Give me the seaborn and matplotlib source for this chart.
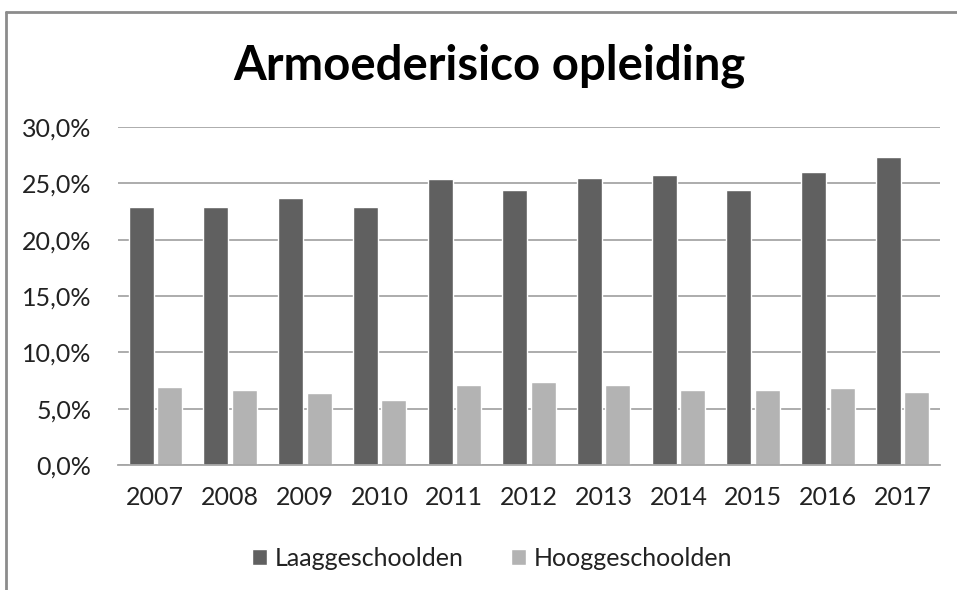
import matplotlib
matplotlib.use('Agg')
import matplotlib.pyplot as plt
import seaborn as sns
import pandas as pd
from matplotlib.lines import Line2D
from matplotlib.ticker import FuncFormatter

# ============================================
# DATA
# ============================================
years = ['2007', '2008', '2009', '2010', '2011', '2012',
         '2013', '2014', '2015', '2016', '2017']
laag = [22.9, 22.9, 23.7, 22.9, 25.4, 24.4, 25.5, 25.7, 24.4, 26.0, 27.3]
hoog = [6.9, 6.7, 6.4, 5.8, 7.1, 7.4, 7.1, 6.7, 6.7, 6.8, 6.5]
series = ['Laaggeschoolden', 'Hooggeschoolden']

df = pd.DataFrame({
    'jaar': years * 2,
    'waarde': laag + hoog,
    'groep': [series[0]] * len(years) + [series[1]] * len(years),
})

sns.set_style('white')
plt.rcParams['font.family'] = ['Lato', 'DejaVu Sans']

W, H = 957, 590
fig = plt.figure(figsize=(W / 100, H / 100), dpi=100)
ax = fig.add_axes([118 / W, (H - 465) / H, (940 - 118) / W, (465 - 127) / H])

sns.barplot(data=df, x='jaar', y='waarde', hue='groep', ax=ax,
            palette={series[0]: '#606060', series[1]: '#b3b3b3'},
            width=0.76, gap=0.12, saturation=1, legend=True)

ax.set_xlim(-0.5, len(years) - 0.5)
ax.set_ylim(0, 30)
ax.set_yticks(range(0, 31, 5))
ax.yaxis.set_major_formatter(FuncFormatter(lambda v, _: f'{v:.1f}%'.replace('.', ',')))
ax.grid(axis='y', color='#a6a6a6', linewidth=1.3)
ax.set_axisbelow(True)
for side in ['left', 'right', 'top']:
    ax.spines[side].set_visible(False)
ax.spines['bottom'].set_color('#a6a6a6')
ax.spines['bottom'].set_linewidth(1.3)
ax.tick_params(axis='both', length=0, labelsize=18, colors='#222222')
ax.tick_params(axis='x', pad=15)
ax.tick_params(axis='y', pad=19)
ax.set_xlabel('')
ax.set_ylabel('')

ax.legend(loc='center', bbox_to_anchor=((492 - 118) / (940 - 118), (465 - 558.5) / (465 - 127)),
          ncol=2, frameon=False, fontsize=18, handlelength=0.6, handleheight=0.6,
          handletextpad=0.3, columnspacing=1.9, labelcolor='#222222')

fig.text(489 / W, 1 - 66 / H, 'Armoederisico opleiding', ha='center', va='center',
         fontsize=34, fontweight='bold', color='black')

# chart border (left and top only visible)
fig.add_artist(Line2D([6 / W, 6 / W], [0, 1 - 12 / H], transform=fig.transFigure,
                      color='#8c8c8c', linewidth=2))
fig.add_artist(Line2D([6 / W, 1], [1 - 12 / H, 1 - 12 / H], transform=fig.transFigure,
                      color='#8c8c8c', linewidth=2))

fig.savefig('out.png', dpi=100)
